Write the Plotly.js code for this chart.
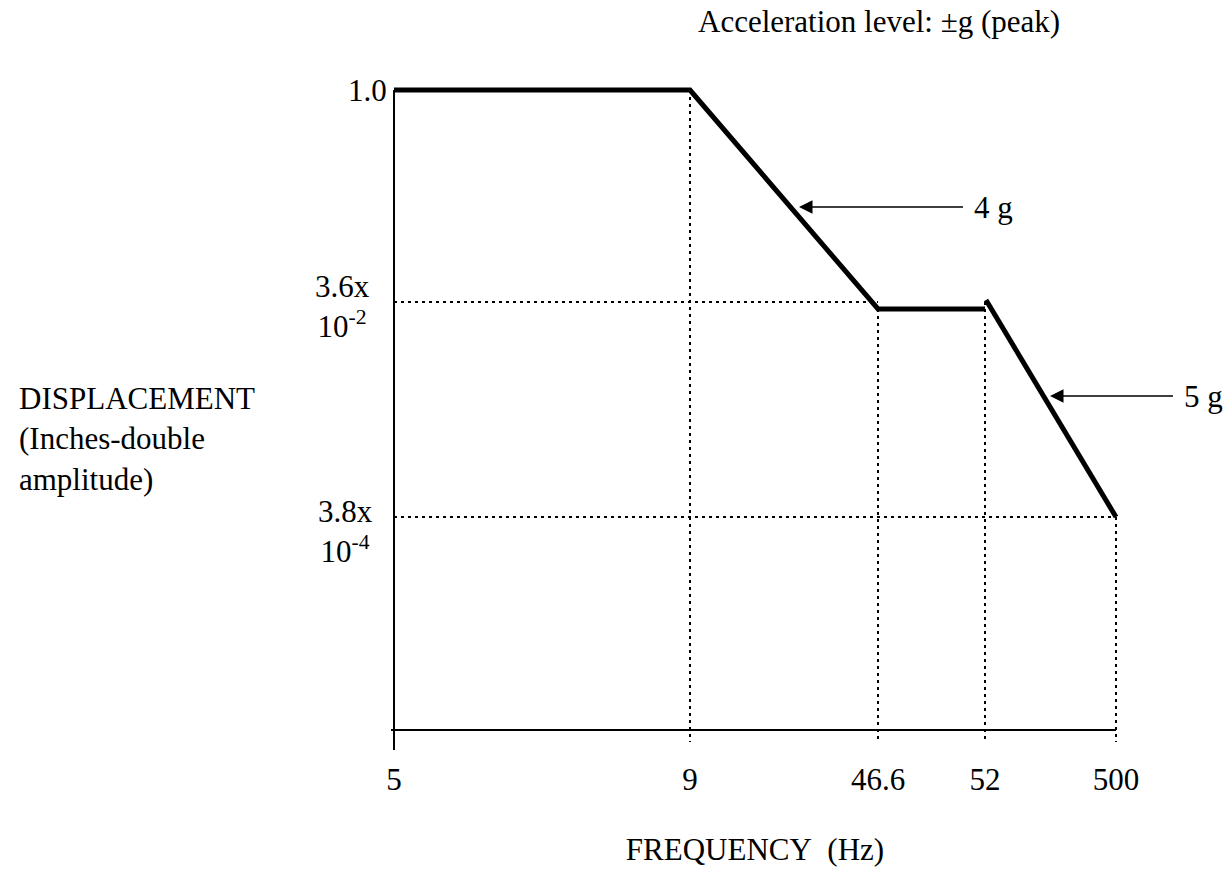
<!DOCTYPE html>
<html>
<head>
<meta charset="utf-8">
<script src="https://cdn.plot.ly/plotly-3.0.1.min.js"></script>
<style>html,body{margin:0;padding:0;background:#fff;}#chart{width:1230px;height:873px;}</style>
</head>
<body>
<div id="chart"></div>
<script>
// Schematic (not-to-scale) chart: frequency breakpoints and displacement levels
const freqLabels = ['5', '9', '46.6', '52', '500'];
const freqPos = [0, 2.96, 4.84, 5.91, 7.22];          // schematic positions along the axis
const dispLabels = ['1.0', '3.6x<br>10<sup>-2</sup>', '3.8x<br>10<sup>-4</sup>'];
const dispPos = [6.40, 4.28, 2.13];                   // schematic levels
const dispLabelPos = [6.40, 4.24, 1.99];
const dispLabelPaperX = [-0.008, -0.041, -0.038];
// Displacement curve (two segments)
const curveX = [0, 2.96, 4.84, 5.91, null, 5.92, 7.22];
const curveY = [6.40, 6.40, 4.21, 4.21, null, 4.30, 2.13];
// Acceleration level call-outs
const accelLabels = ['4 g', '5 g'];
const accelTipX = [4.05, 6.56];
const accelTipY = [5.23, 3.34];
const accelTextOffset = [194, 153];

const FONT = 'Liberation Serif, Times New Roman, serif';
const FS = 31;

// dotted guide lines built from the breakpoints
const vTop = [6.40, 4.21, 4.28, 2.13];
const gx = [], gy = [];
for (let i = 1; i < freqPos.length; i++) {
  gx.push(freqPos[i], freqPos[i], null);
  gy.push(vTop[i - 1], -0.12, null);
}
const hEnd = [freqPos[2], freqPos[4]];
for (let j = 1; j < dispPos.length; j++) {
  gx.push(0, hEnd[j - 1], null);
  gy.push(dispPos[j], dispPos[j], null);
}

const traces = [
  { x: gx, y: gy, mode: 'lines', line: { color: '#000', width: 2, dash: '3px,4px' }, hoverinfo: 'skip' },
  { x: [0, 0, null, -0.03, freqPos[4]], y: [dispPos[0], -0.2, null, 0, 0], mode: 'lines',
    line: { color: '#000', width: 2 }, hoverinfo: 'skip' },
  { x: curveX, y: curveY, mode: 'lines', line: { color: '#000', width: 5 }, connectgaps: false }
];

const annotations = [];
dispLabels.forEach((t, i) => {
  annotations.push({ x: dispLabelPaperX[i], y: dispLabelPos[i], xref: 'paper', yref: 'y', text: t,
    showarrow: false, xanchor: 'center', yanchor: 'middle', align: 'center',
    font: { family: FONT, size: FS, color: '#000' } });
});
accelLabels.forEach((t, i) => {
  annotations.push({ x: accelTipX[i], y: accelTipY[i], xref: 'x', yref: 'y', text: t,
    showarrow: true, arrowhead: 2, arrowsize: 1.8, arrowwidth: 1.5, arrowcolor: '#000',
    ax: accelTextOffset[i], ay: 0, standoff: 0, borderpad: 10,
    font: { family: FONT, size: FS, color: '#000' } });
});
annotations.push({ x: -0.4685, y: 2.91, xref: 'paper', yref: 'y',
  text: 'DISPLACEMENT<br>(Inches-double<br>amplitude)', showarrow: false,
  xanchor: 'left', yanchor: 'middle', align: 'left',
  font: { family: FONT, size: FS, color: '#000' } });

const layout = {
  width: 1230, height: 873,
  paper_bgcolor: '#fff', plot_bgcolor: '#fff',
  showlegend: false,
  margin: { l: 374, r: 94, t: 70, b: 123 },
  font: { family: FONT, size: FS, color: '#000' },
  title: { text: 'Acceleration level: \u00b1g (peak)', x: 698 / 1230, xref: 'container', xanchor: 'left',
           y: 1 - 21 / 873, yref: 'container', yanchor: 'middle',
           font: { family: FONT, size: FS, color: '#000' } },
  xaxis: { range: [-0.2, 7.42], showgrid: false, zeroline: false, showline: false,
           tickmode: 'array', tickvals: freqPos, ticktext: freqLabels, ticks: '',
           ticklabelstandoff: 8,
           tickfont: { family: FONT, size: FS, color: '#000' },
           title: { text: 'FREQUENCY\u00a0\u00a0(Hz)', standoff: 42, font: { family: FONT, size: FS, color: '#000' } },
           automargin: false },
  yaxis: { range: [-0.2, 6.6], showgrid: false, zeroline: false, showline: false,
           showticklabels: false, ticks: '', automargin: false },
  annotations: annotations
};

Plotly.newPlot('chart', traces, layout, { displayModeBar: false, staticPlot: true }).then(() => {
  // drop empty placeholder text nodes left by Plotly
  document.querySelectorAll('#chart svg text').forEach(t => {
    if (!t.textContent.trim()) t.remove();
  });
});
</script>
</body>
</html>
